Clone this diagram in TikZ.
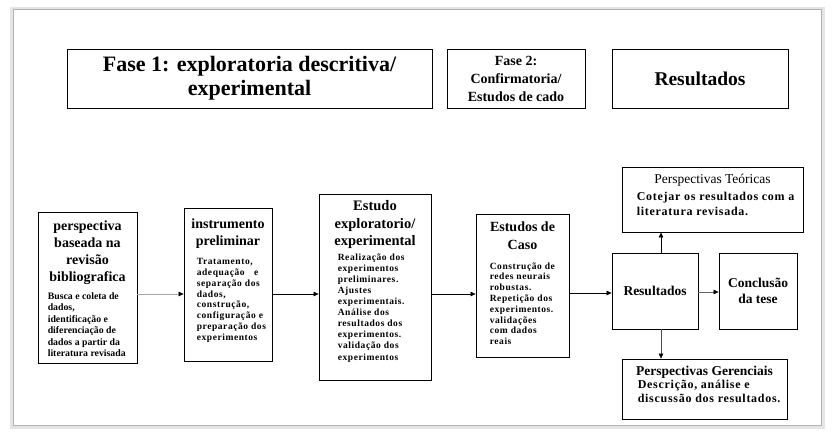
\documentclass[tikz,border=0pt]{standalone}
\usepackage{fontspec}
\setmainfont{Liberation Serif}
\newfontfamily\spacedserif[LetterSpace=6]{Liberation Serif}
\usetikzlibrary{arrows.meta}
\colorlet{frame edge}{black!30}
\colorlet{frame shade}{black!10}
\tikzset{box/.style={draw, line width=0.8pt, inner sep=0pt},
	ttl/.style={inner sep=0pt, align=center, font=\bfseries\fontsize{14}{17}\selectfont},
	bdy/.style={inner sep=0pt, align=left, font=\spacedserif\bfseries\fontsize{9.5}{10.8}\selectfont},
	arr/.style={-{Triangle[length=5pt,width=4.5pt,color=black]}, line width=0.7pt}}

\begin{document}
\begin{tikzpicture}[x=1pt,y=-1pt]
		\useasboundingbox (0,0) rectangle (840,441);
		% panel
		\fill[frame shade] (10,7) rectangle (825,429);
		\filldraw[fill=white, draw=frame edge, line width=1pt] (13,10) rectangle (821,425);
		
		% phases
		\node[box, minimum width=365pt, minimum height=59pt, align=center,
		font=\bfseries\fontsize{22}{24}\selectfont] (f1) at (249.5,78.5)
		{Fase 1: exploratoria descritiva/\\experimental};
		\node[box, minimum width=138pt, minimum height=59pt, align=center,
		font=\bfseries\fontsize{14}{18}\selectfont] (f2) at (516,78.5)
		{Fase 2:\\Confirmatoria/\\Estudos de cado};
		\node[box, minimum width=176pt, minimum height=59pt,
		font=\bfseries\fontsize{19.5}{20}\selectfont] (f3) at (700,78.5) {Resultados};
		
		% flow
		\node[box, minimum width=99pt, minimum height=151pt] (pb) at (87.5,287.5) {};
		\node[ttl, anchor=north] (pbt) at ([yshift=-9pt]pb.north)
		{perspectiva\\baseada na\\revisão\\bibliografica};
		\node[bdy, anchor=north west, font=\bfseries\fontsize{9.8}{11.5}\selectfont] (pbb)
		at ([xshift=10pt,yshift=-80.5pt]pb.north west)
		{Busca e coleta de\\dados,\\identificação e\\diferenciação de\\dados a partir da\\literatura revisada};
		
		\node[box, minimum width=88pt, minimum height=153pt] (ip) at (228,284.5) {};
		\node[ttl, anchor=north] (ipt) at ([yshift=-10.7pt]ip.north)
		{instrumento\\preliminar};
		\node[bdy, anchor=north west] (ipb) at ([xshift=13pt,yshift=-50.7pt]ip.north west)
		{Tratamento,\\adequação\quad e\\separação dos\\dados,\\construção,\\configuração e\\preparação dos\\experimentos};
		
		\node[box, minimum width=112pt, minimum height=186pt] (ee) at (375,287) {};
		\node[ttl, anchor=north, font=\bfseries\fontsize{14.5}{17.5}\selectfont] (eet)
		at ([yshift=-6.7pt]ee.north) {Estudo\\exploratorio/\\experimental};
		\node[bdy, anchor=north west, font=\spacedserif\bfseries\fontsize{9.5}{11.1}\selectfont] (eeb)
		at ([xshift=19pt,yshift=-59.7pt]ee.north west)
		{Realização dos\\experimentos\\preliminares.\\Ajustes\\experimentais.\\Análise dos\\resultados dos\\experimentos.\\validação dos\\experimentos};
		
		\node[box, minimum width=93pt, minimum height=143pt] (ec) at (522.5,285.5) {};
		\node[ttl, anchor=north, font=\bfseries\fontsize{14}{18}\selectfont] (ect)
		at ([yshift=-7.7pt]ec.north) {Estudos de\\Caso};
		\node[bdy, anchor=north west] (ecb) at ([xshift=14pt,yshift=-48.7pt]ec.north west)
		{Construção de\\redes neurais\\robustas.\\Repetição dos\\experimentos.\\validações\\com dados\\reais};
		
		\node[box, minimum width=86pt, minimum height=76pt,
		font=\bfseries\fontsize{13.5}{16}\selectfont] (res) at (655,291) {Resultados};
		\node[box, minimum width=78pt, minimum height=76pt, align=center,
		font=\bfseries\fontsize{13.5}{16}\selectfont] (con) at (758,291) {Conclusão\\da tese};
		
		\node[box, minimum width=181pt, minimum height=65pt] (pt) at (712.5,199.5) {};
		\node[inner sep=0pt, anchor=north, font=\fontsize{13.5}{15}\selectfont] (ptt)
		at ([yshift=-7.2pt]pt.north) {Perspectivas Teóricas};
		\node[bdy, anchor=north west, font=\spacedserif\bfseries\fontsize{12}{14.5}\selectfont] (ptb)
		at ([xshift=15pt,yshift=-25.6pt]pt.north west)
		{Cotejar os resultados com a\\literatura revisada.};
		
		\node[box, minimum width=165pt, minimum height=60pt] (pg) at (704.5,389) {};
		\node[inner sep=0pt, anchor=north, font=\bfseries\fontsize{13.5}{15}\selectfont] (pgt)
		at ([yshift=-7pt]pg.north) {Perspectivas Gerenciais};
		\node[bdy, anchor=north west, font=\spacedserif\bfseries\fontsize{12}{14}\selectfont] (pgb)
		at ([xshift=16pt,yshift=-21.6pt]pg.north west)
		{Descrição, análise e\\discussão dos resultados.};
		
		% arrows
		\draw[arr, draw=black!35] (pb.east |- 0,294) -- (ip.west |- 0,294);
		\draw[arr] (ip.east |- 0,294) -- (ee.west |- 0,294);
		\draw[arr] (ee.east |- 0,294) -- (ec.west |- 0,294);
		\draw[arr] (ec.east |- 0,293) -- (res.west |- 0,293);
		\draw[arr, draw=black!60] (res.east |- 0,292) -- (con.west |- 0,292);
		\draw[arr] ([xshift=6pt]res.north) -- ([xshift=6pt]res.north |- pt.south);
		\draw[arr, draw=black!70] ([xshift=6pt]res.south) -- ([xshift=6pt]res.south |- pg.north);
		\end{tikzpicture}
\end{document}
